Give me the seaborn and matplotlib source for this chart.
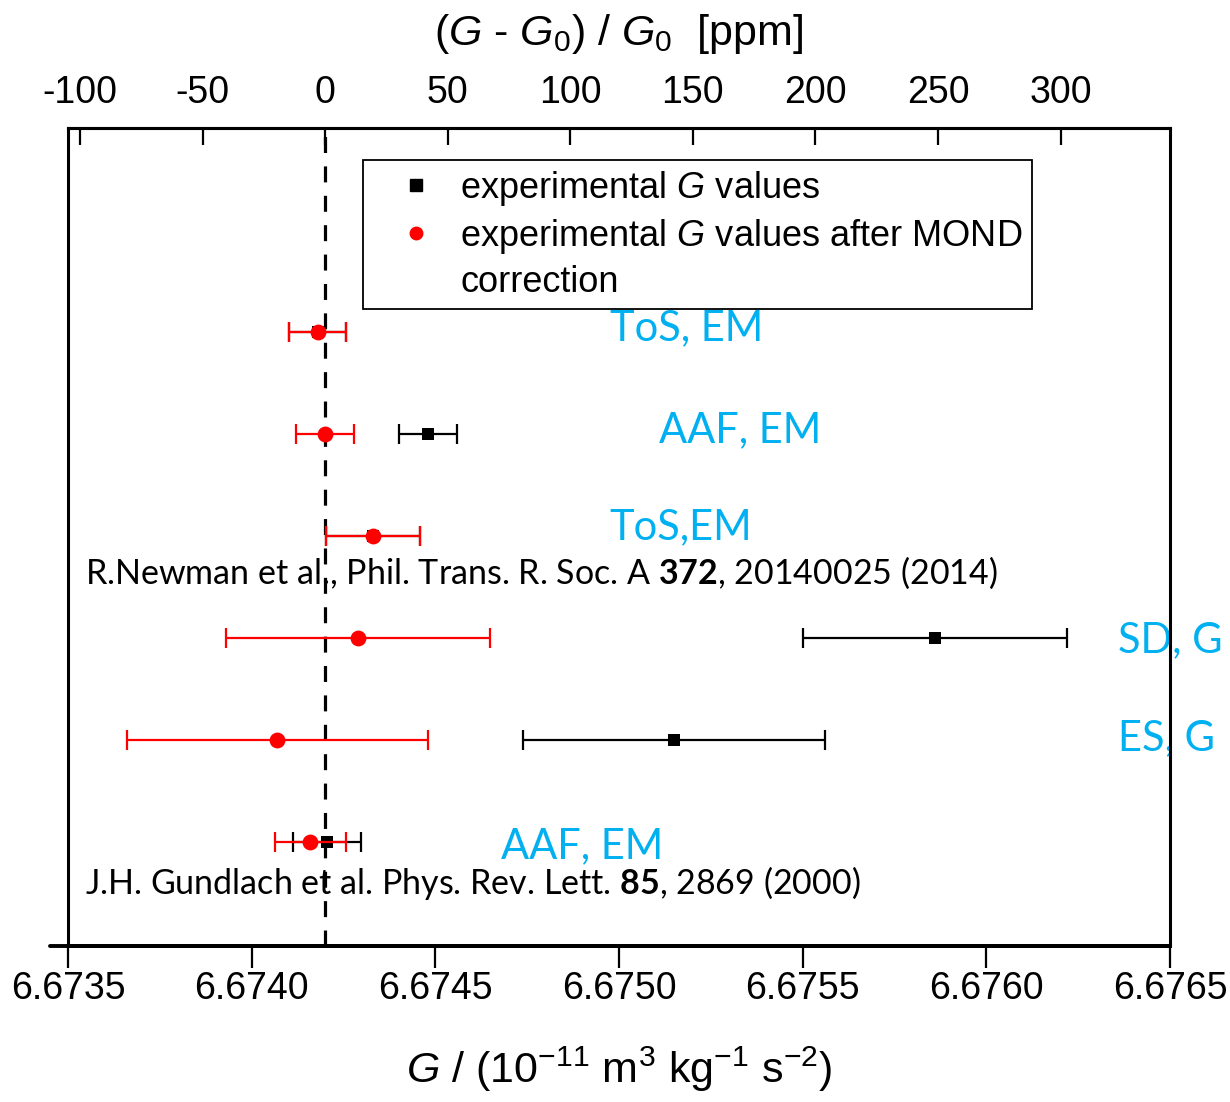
import matplotlib
matplotlib.use("Agg")
import matplotlib.pyplot as plt
from matplotlib.lines import Line2D
from matplotlib import font_manager
import numpy as np
import pandas as pd
import seaborn as sns

# ---------------- data ----------------
rows = [6, 5, 4, 3, 2, 1]
exp_G = [6.67418, 6.67448, 6.67433, 6.67586, 6.67515, 6.674205]
exp_err = [0.000078, 0.000078, 0.000128, 0.00036, 0.00041, 0.000092]
mond_G = [6.67418, 6.67420, 6.67433, 6.67429, 6.67407, 6.67416]
mond_err = [0.000078, 0.000078, 0.000128, 0.00036, 0.00041, 0.000097]
method_labels = ["ToS, EM", "AAF, EM", "ToS,EM", "SD, G", "ES, G", "AAF, EM"]
G0 = 6.6742
top_ticks = [-100, -50, 0, 50, 100, 150, 200, 250, 300]
bottom_ticks = [6.6735, 6.6740, 6.6745, 6.6750, 6.6755, 6.6760, 6.6765]

exp_df = pd.DataFrame({"G": exp_G, "err": exp_err, "row": rows})
mond_df = pd.DataFrame({"G": mond_G, "err": mond_err, "row": rows})

# ---------------- style ----------------
sns.set_theme(style="white")
names = {f.name for f in font_manager.fontManager.ttflist}
narrow = "Liberation Sans Narrow" if "Liberation Sans Narrow" in names else "Liberation Sans"
plt.rcParams["font.family"] = [narrow, "DejaVu Sans"]
plt.rcParams["text.color"] = "black"
plt.rcParams["axes.labelcolor"] = "black"
plt.rcParams["xtick.color"] = "black"
plt.rcParams["mathtext.fontset"] = "custom"
plt.rcParams["mathtext.rm"] = narrow
plt.rcParams["mathtext.it"] = narrow + ":italic"
plt.rcParams["mathtext.bf"] = "Lato:bold"
calibri = "Lato"
cyan = "#00B0F0"

fig = plt.figure(figsize=(12.3, 11.02), dpi=100)
ax = fig.add_axes([68 / 1230, 1 - 946 / 1102, (1170 - 68) / 1230, (946 - 128) / 1102])

# dashed reference line
ax.axvline(G0, color="black", lw=2.3, dashes=(5.0, 4.2), zorder=1)

# error bars and markers
ax.errorbar(exp_df["G"], exp_df["row"], xerr=exp_df["err"], fmt="none",
            ecolor="black", elinewidth=1.6, capsize=7, capthick=1.6, zorder=2)
sns.scatterplot(data=exp_df, x="G", y="row", marker="s", color="black",
                s=85, edgecolor="black", linewidth=0, ax=ax, zorder=3)
ax.errorbar(mond_df["G"], mond_df["row"], xerr=mond_df["err"], fmt="none",
            ecolor="red", elinewidth=1.6, capsize=7, capthick=1.6, zorder=4)
sns.scatterplot(data=mond_df, x="G", y="row", marker="o", color="red",
                s=130, edgecolor="red", linewidth=0, ax=ax, zorder=5)

ax.set_xlim(6.6735, 6.6765)
ax.set_ylim(-0.02, 8.0)
ax.set_yticks([])
ax.set_ylabel("")
ax.set_xticks(bottom_ticks)
ax.set_xticklabels([f"{t:.4f}" for t in bottom_ticks])
ax.tick_params(axis="x", which="both", bottom=True, top=False, direction="out",
               length=16, width=1.6, labelsize=27, pad=2, colors="black")
ax.set_xlabel("$G$ / (10$^{-11}$ m$^3$ kg$^{-1}$ s$^{-2}$)", fontsize=31, labelpad=27)

for side in ["left", "right", "top", "bottom"]:
    ax.spines[side].set_visible(True)
    ax.spines[side].set_color("black")
    ax.spines[side].set_linewidth(2.2)
ax.spines["bottom"].set_linewidth(2.8)
# extended bottom axis line
ax.add_line(Line2D([-0.0163, 1.0], [0, 0], transform=ax.transAxes, color="black",
                   lw=2.8, clip_on=False, zorder=6))

# top ppm axis
def to_ppm(g):
    return (g - G0) / G0 * 1e6

def from_ppm(p):
    return G0 * (1 + p * 1e-6)

sec = ax.secondary_xaxis("top", functions=(to_ppm, from_ppm))
sec.set_xticks(top_ticks)
sec.set_xticklabels([str(t) for t in top_ticks])
sec.tick_params(direction="in", length=12, width=1.6, labelsize=27, pad=12, colors="black")
sec.spines["top"].set_linewidth(2.2)
sec.set_xlabel("($G$ - $G_0$) / $G_0$  [ppm]", fontsize=31, labelpad=22)

# method labels
label_x = [6.674975, 6.675109, 6.674975, 6.676358, 6.676358, 6.674679]
label_y = [6.04, 5.04, 4.09, 2.98, 2.02, 0.96]
for lx, ly, txt in zip(label_x, label_y, method_labels):
    ax.text(lx, ly, txt, color=cyan, fontsize=30, family=calibri,
            ha="left", va="center", clip_on=False, zorder=1)

ax.text(6.673546, 3.64, r"R.Newman et al., Phil. Trans. R. Soc. A $\mathbf{372}$, 20140025 (2014)",
        fontsize=24.5, family=calibri, ha="left", va="center", color="black")
ax.text(6.673546, 0.60, r"J.H. Gundlach et al. Phys. Rev. Lett. $\mathbf{85}$, 2869 (2000)",
        fontsize=24.5, family=calibri, ha="left", va="center", color="black")

# legend
handles = [
    Line2D([], [], marker="s", color="black", ls="none", markersize=8),
    Line2D([], [], marker="o", color="red", ls="none", markersize=9),
    Line2D([], [], ls="none", marker=None),
]
labels = ["experimental $G$ values", "experimental $G$ values after MOND", "correction"]
leg = ax.legend(handles, labels, loc="upper left",
                bbox_to_anchor=(363 / 1230, 1 - 160 / 1102), bbox_transform=fig.transFigure,
                fontsize=26, frameon=True, fancybox=False, edgecolor="black",
                framealpha=1, borderpad=0.25, handlelength=2.45, handletextpad=0.0,
                labelspacing=0.25, borderaxespad=0)
leg.get_frame().set_linewidth(1.3)

fig.savefig("out.png", dpi=100)
